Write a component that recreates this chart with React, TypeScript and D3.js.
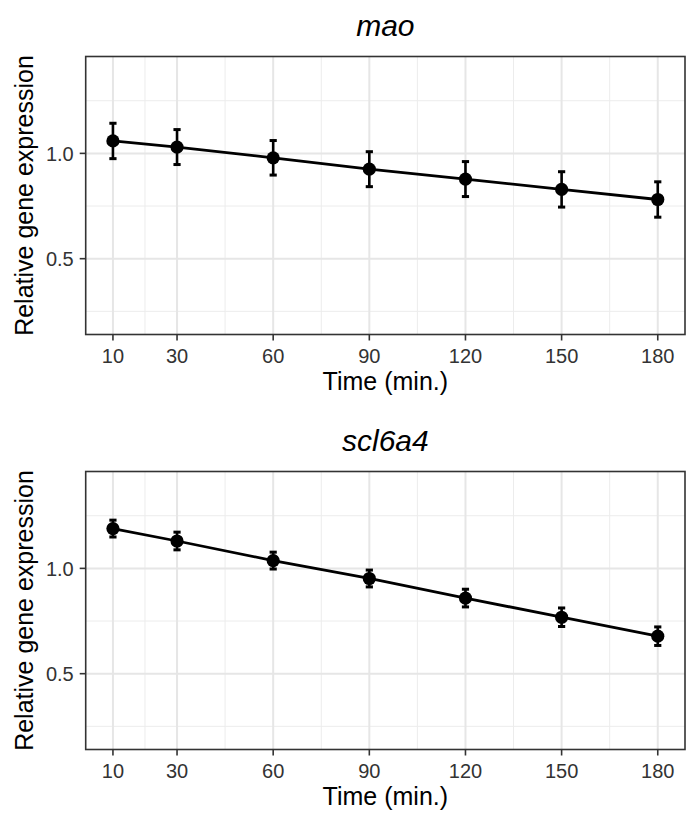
import React from 'react';
import * as d3 from 'd3';

// Time points (min.) and per-gene mean ± error
const TIMES = [10, 30, 60, 90, 120, 150, 180];
const X_MINOR = [20, 45, 75, 105, 135, 165];
const Y_TICKS = [0.5, 1.0];
const Y_MINOR = [0.25, 0.75, 1.25];

const MAO_MEAN = [1.059, 1.030, 0.979, 0.925, 0.878, 0.829, 0.781];
const MAO_ERR = [0.084, 0.083, 0.082, 0.083, 0.083, 0.084, 0.084];

const SCL_MEAN = [1.189, 1.130, 1.037, 0.952, 0.859, 0.768, 0.678];
const SCL_ERR = [0.040, 0.042, 0.040, 0.040, 0.042, 0.044, 0.044];

const W = 689;
const H = 818;
const FONT = '"Liberation Sans", Arial, Helvetica, sans-serif';

const PANEL_LEFT = 85.7;
const PANEL_RIGHT = 685;
const PANEL_H = 278;

const x = d3.scaleLinear().domain([1.5, 188.5]).range([PANEL_LEFT, PANEL_RIGHT]);

interface PanelProps {
  title: string;
  top: number;
  mean: number[];
  err: number[];
}

function Panel({ title, top, mean, err }: PanelProps) {
  const y = d3.scaleLinear().domain([0.14, 1.46]).range([top + PANEL_H, top]);
  const pts = TIMES.map((t, i) => ({ t, m: mean[i], e: err[i] }));
  const line = d3.line<{ t: number; m: number }>()
    .x(d => x(d.t))
    .y(d => y(d.m));
  const cx = (PANEL_LEFT + PANEL_RIGHT) / 2;
  const capHalf = 3.6;

  return (
    <g>
      <text x={cx} y={top - 20.5} textAnchor="middle" fontSize={30}
        fontStyle="italic" fontFamily={FONT} fill="#000">{title}</text>

      {/* grid */}
      {Y_MINOR.map(v => (
        <line key={'ym' + v} x1={PANEL_LEFT} x2={PANEL_RIGHT} y1={y(v)} y2={y(v)}
          stroke="#ececec" strokeWidth={1} />
      ))}
      {X_MINOR.map(v => (
        <line key={'xm' + v} x1={x(v)} x2={x(v)} y1={top} y2={top + PANEL_H}
          stroke="#ececec" strokeWidth={1} />
      ))}
      {Y_TICKS.map(v => (
        <line key={'yM' + v} x1={PANEL_LEFT} x2={PANEL_RIGHT} y1={y(v)} y2={y(v)}
          stroke="#e6e6e6" strokeWidth={2} />
      ))}
      {TIMES.map(v => (
        <line key={'xM' + v} x1={x(v)} x2={x(v)} y1={top} y2={top + PANEL_H}
          stroke="#e6e6e6" strokeWidth={2} />
      ))}

      {/* series */}
      <path d={line(pts) ?? ''} fill="none" stroke="#000" strokeWidth={2.8} />
      {pts.map(d => (
        <g key={'e' + d.t} stroke="#000">
          <line x1={x(d.t)} x2={x(d.t)} y1={y(d.m + d.e)} y2={y(d.m - d.e)} strokeWidth={2.6} />
          <line x1={x(d.t) - capHalf} x2={x(d.t) + capHalf} y1={y(d.m + d.e)} y2={y(d.m + d.e)} strokeWidth={3} />
          <line x1={x(d.t) - capHalf} x2={x(d.t) + capHalf} y1={y(d.m - d.e)} y2={y(d.m - d.e)} strokeWidth={3} />
        </g>
      ))}
      {pts.map(d => (
        <circle key={'p' + d.t} cx={x(d.t)} cy={y(d.m)} r={6.6} fill="#000" />
      ))}

      <rect x={PANEL_LEFT} y={top} width={PANEL_RIGHT - PANEL_LEFT} height={PANEL_H}
        fill="none" stroke="#333" strokeWidth={1.6} />

      {/* y axis */}
      {Y_TICKS.map(v => (
        <g key={'yt' + v}>
          <line x1={PANEL_LEFT - 6} x2={PANEL_LEFT} y1={y(v)} y2={y(v)} stroke="#333" strokeWidth={1.6} />
          <text x={PANEL_LEFT - 12} y={y(v)} dy="0.36em" textAnchor="end" fontSize={20}
            fontFamily={FONT} fill="#333">{v.toFixed(1)}</text>
        </g>
      ))}
      <text transform={`translate(33,${top + PANEL_H / 2}) rotate(-90)`} textAnchor="middle"
        fontSize={25} fontFamily={FONT} fill="#000">Relative gene expression</text>

      {/* x axis */}
      {TIMES.map(v => (
        <g key={'xt' + v}>
          <line x1={x(v)} x2={x(v)} y1={top + PANEL_H} y2={top + PANEL_H + 6} stroke="#333" strokeWidth={1.6} />
          <text x={x(v)} y={top + PANEL_H + 28.5} textAnchor="middle" fontSize={20}
            fontFamily={FONT} fill="#333">{v}</text>
        </g>
      ))}
      <text x={cx} y={top + PANEL_H + 55.5} textAnchor="middle" fontSize={25}
        fontFamily={FONT} fill="#000">Time (min.)</text>
    </g>
  );
}

export default function App() {
  return (
    <svg width={W} height={H} viewBox={`0 0 ${W} ${H}`}
      style={{ position: 'absolute', left: 0, top: 0, display: 'block', background: '#fff' }}>
      <rect width={W} height={H} fill="#fff" />
      <Panel title="mao" top={56.5} mean={MAO_MEAN} err={MAO_ERR} />
      <Panel title="scl6a4" top={471.5} mean={SCL_MEAN} err={SCL_ERR} />
    </svg>
  );
}
